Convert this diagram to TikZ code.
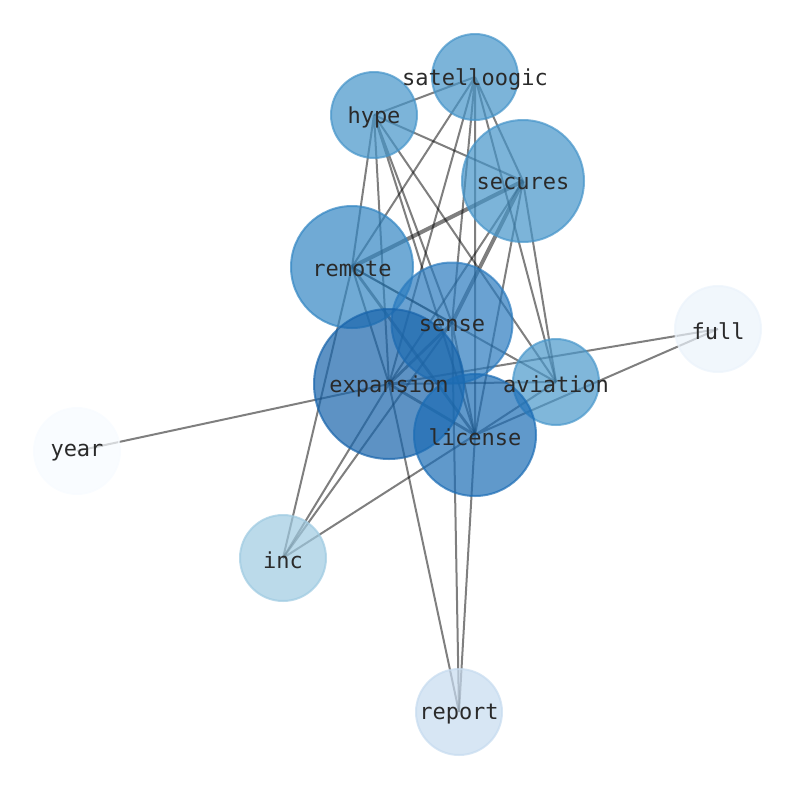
\documentclass[tikz,border=0pt]{standalone}
\usepackage{fontspec}
\setmonofont{DejaVu Sans Mono}
\usepackage{xcolor}
\definecolor{bl-top}{HTML}{4594C9}
\definecolor{bl-avi}{HTML}{4A98CB}
\definecolor{bl-rem}{HTML}{3386C3}
\definecolor{bl-sen}{HTML}{2B7BBF}
\definecolor{bl-lic}{HTML}{1C6DB5}
\definecolor{bl-exp}{HTML}{1864AB}
\definecolor{bl-inc}{HTML}{9ECAE1}
\definecolor{bl-rep}{HTML}{C6DBEF}
\definecolor{bl-ful}{HTML}{EBF3FB}
\definecolor{bl-yea}{HTML}{F7FBFF}
\definecolor{txt-gray}{HTML}{2A2A2A}
\usepackage{tikz}
\usetikzlibrary{positioning}
\pgfdeclarelayer{bg}
\pgfsetlayers{bg,main}

\begin{document}
\begin{tikzpicture}[x=1pt,y=-1pt,
    bubble/.style={circle,inner sep=0pt,line width=2pt,fill opacity=0.7,draw opacity=0.7},
    word/.style={font=\ttfamily\fontsize{22}{24}\selectfont,text=txt-gray,inner sep=0pt,yshift=-2pt},
    link/.style={line width=2pt,draw=black,opacity=0.5},
    midlink/.style={link,line width=2.8pt},
    heavylink/.style={link,line width=4pt}]
    \useasboundingbox (0,0) rectangle (794,790);
    % bubbles
    \node[bubble,fill=bl-top,draw=bl-top,minimum size=86pt] (satelloogic) at (475,77) {};
    \node[bubble,fill=bl-top,draw=bl-top,minimum size=86pt] (hype) at (374,115) {};
    \node[bubble,fill=bl-top,draw=bl-top,minimum size=122pt] (secures) at (523,181) {};
    \node[bubble,fill=bl-rem,draw=bl-rem,minimum size=122pt] (remote) at (352,267) {};
    \node[bubble,fill=bl-sen,draw=bl-sen,minimum size=121pt] (sense) at (452,323) {};
    \node[bubble,fill=bl-ful,draw=bl-ful,minimum size=86pt] (full) at (718,329) {};
    \node[bubble,fill=bl-exp,draw=bl-exp,minimum size=150pt] (expansion) at (389,384) {};
    \node[bubble,fill=bl-avi,draw=bl-avi,minimum size=86pt] (aviation) at (556,382) {};
    \node[bubble,fill=bl-lic,draw=bl-lic,minimum size=122pt] (license) at (475,435) {};
    \node[bubble,fill=bl-yea,draw=bl-yea,minimum size=86pt] (year) at (77,451) {};
    \node[bubble,fill=bl-inc,draw=bl-inc,minimum size=86pt] (inc) at (283,558) {};
    \node[bubble,fill=bl-rep,draw=bl-rep,minimum size=86pt] (report) at (459,712) {};
    % links, behind the bubbles
    \begin{pgfonlayer}{bg}
    \draw[link] (satelloogic.center)--(hype.center) (satelloogic.center)--(remote.center) (satelloogic.center)--(expansion.center) (satelloogic.center)--(sense.center) (satelloogic.center)--(license.center) (satelloogic.center)--(secures.center) (satelloogic.center)--(aviation.center);
    \draw[link] (hype.center)--(secures.center) (hype.center)--(remote.center) (hype.center)--(expansion.center) (hype.center)--(sense.center) (hype.center)--(license.center) (hype.center)--(aviation.center);
    \draw[heavylink] (secures.center)--(remote.center);
    \draw[heavylink] (secures.center)--(sense.center);
    \draw[link] (secures.center)--(expansion.center) (secures.center)--(license.center) (secures.center)--(aviation.center);
    \draw[link] (remote.center)--(sense.center) (remote.center)--(expansion.center) (remote.center)--(inc.center);
    \draw[link] (remote.center)--(aviation.center);
    \draw[midlink] (remote.center)--(license.center);
    \draw[midlink] (sense.center)--(expansion.center);
    \draw[link] (sense.center)--(license.center) (sense.center)--(inc.center) (sense.center)--(report.center);
    \draw[midlink] (expansion.center)--(license.center);
    \draw[link] (expansion.center)--(aviation.center) (expansion.center)--(full.center) (expansion.center)--(year.center) (expansion.center)--(inc.center) (expansion.center)--(report.center);
    \draw[link] (license.center)--(aviation.center) (license.center)--(full.center) (license.center)--(inc.center) (license.center)--(report.center);
    \end{pgfonlayer}
    % words on top
    \node[word] (satelloogic-w) at (satelloogic) {satelloogic};
    \node[word] (hype-w) at (hype) {hype};
    \node[word] (secures-w) at (secures) {secures};
    \node[word] (remote-w) at (remote) {remote};
    \node[word] (sense-w) at (sense) {sense};
    \node[word] (full-w) at (full) {full};
    \node[word] (expansion-w) at (expansion) {expansion};
    \node[word] (aviation-w) at (aviation) {aviation};
    \node[word] (license-w) at (license) {license};
    \node[word] (year-w) at (year) {year};
    \node[word] (inc-w) at (inc) {inc};
    \node[word] (report-w) at (report) {report};
\end{tikzpicture}
\end{document}
